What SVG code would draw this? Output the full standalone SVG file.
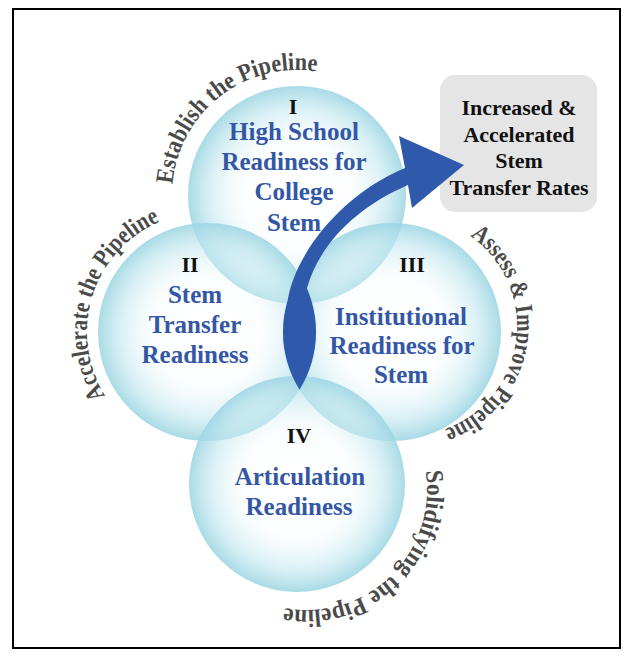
<svg xmlns="http://www.w3.org/2000/svg" width="628" height="656" viewBox="0 0 628 656">
  <defs>
    <radialGradient id="bubble" cx="0.5" cy="0.5" r="0.5">
      <stop offset="0" stop-color="#ffffff" stop-opacity="0"/>
      <stop offset="0.5" stop-color="#eef9fb" stop-opacity="0.25"/>
      <stop offset="0.82" stop-color="#bee5ee" stop-opacity="0.65"/>
      <stop offset="1" stop-color="#9cd5e2" stop-opacity="0.88"/>
    </radialGradient>
    <!-- arcs carrying the stage captions -->
    <path id="arc-establish" d="M 172.5,184.1 A 125 125 0 0 1 318.7,71.9"/>
    <path id="arc-accelerate" d="M 105.2,395.6 A 120 120 0 0 1 162,220.7"/>
    <path id="arc-assess" d="M 470.1,235.9 A 110 110 0 0 1 442.8,430"/>
    <path id="arc-solidify" d="M 425.5,471.2 A 120 120 0 0 1 282.1,607.4"/>
  </defs>
  <style>
    .bubble { fill: url(#bubble); }
    .num { font-family: "Liberation Serif", "Times New Roman", serif; font-weight: bold; font-size: 22px; fill: #111111; text-anchor: middle; }
    .title { font-family: "Liberation Serif", "Times New Roman", serif; font-weight: bold; font-size: 25px; fill: #3457a5; text-anchor: middle; }
    .goal { font-family: "Liberation Serif", "Times New Roman", serif; font-weight: bold; font-size: 22px; fill: #111111; text-anchor: middle; }
    .phase { font-family: "Liberation Serif", "Times New Roman", serif; font-weight: bold; font-size: 25px; fill: #4a4a4a; }
    .flow { fill: #2f5aab; }
  </style>

  <rect x="0" y="0" width="628" height="656" fill="#ffffff"/>
  <rect x="13" y="9" width="607" height="639" fill="none" stroke="#000000" stroke-width="2"/>

  <!-- the four readiness areas -->
  <g id="node-I">
    <circle class="bubble" cx="297" cy="195" r="109"/>
  </g>
  <g id="node-II">
    <circle class="bubble" cx="207" cy="332" r="109"/>
  </g>
  <g id="node-III">
    <circle class="bubble" cx="392" cy="332" r="109"/>
  </g>
  <g id="node-IV">
    <circle class="bubble" cx="297" cy="484" r="108"/>
  </g>

  <!-- outcome box -->
  <g id="node-outcome">
    <rect x="440" y="75" width="157" height="137" rx="15" ry="15" fill="#e5e5e6"/>
    <text class="goal" x="519" y="115">Increased &amp;</text>
    <text class="goal" x="519" y="142">Accelerated</text>
    <text class="goal" x="519" y="168">Stem</text>
    <text class="goal" x="519" y="195">Transfer Rates</text>
  </g>

  <!-- pipeline flow: lens between II and III, sweeping up to the outcome -->
  <g id="connectors">
    <path class="flow" d="M 299.5,274.3 A 109 109 0 0 0 299.5,389.7 A 109 109 0 0 0 299.5,274.3 Z"/>
    <path class="flow" d="M 287.8,300 C 295,255 340,195 405,168 L 399,136 L 464,165 L 412,208 L 408,185 C 357,207 320,243 307,288 Z"/>
  </g>

  <!-- node captions -->
  <g id="labels-I">
    <text class="num" x="293" y="114">I</text>
    <text class="title" x="294" y="140">High School</text>
    <text class="title" x="294" y="170">Readiness for</text>
    <text class="title" x="294" y="200">College</text>
    <text class="title" x="294" y="231">Stem</text>
  </g>
  <g id="labels-II">
    <text class="num" x="190" y="272">II</text>
    <text class="title" x="195" y="303">Stem</text>
    <text class="title" x="195" y="333">Transfer</text>
    <text class="title" x="195" y="363">Readiness</text>
  </g>
  <g id="labels-III">
    <text class="num" x="412" y="272">III</text>
    <text class="title" x="401" y="325">Institutional</text>
    <text class="title" x="402" y="354">Readiness for</text>
    <text class="title" x="401" y="383">Stem</text>
  </g>
  <g id="labels-IV">
    <text class="num" x="299" y="443">IV</text>
    <text class="title" x="300" y="485">Articulation</text>
    <text class="title" x="299" y="515">Readiness</text>
  </g>

  <!-- stage captions around the circles -->
  <g id="phases">
    <text class="phase"><textPath href="#arc-establish" textLength="205" lengthAdjust="spacingAndGlyphs">Establish the Pipeline</textPath></text>
    <text class="phase"><textPath href="#arc-accelerate" textLength="207" lengthAdjust="spacingAndGlyphs">Accelerate the Pipeline</textPath></text>
    <text class="phase"><textPath href="#arc-assess" textLength="240" lengthAdjust="spacingAndGlyphs">Assess &amp; Improve Pipeline</textPath></text>
    <text class="phase"><textPath href="#arc-solidify" textLength="230" lengthAdjust="spacingAndGlyphs">Solidifying the Pipeline</textPath></text>
  </g>
</svg>
